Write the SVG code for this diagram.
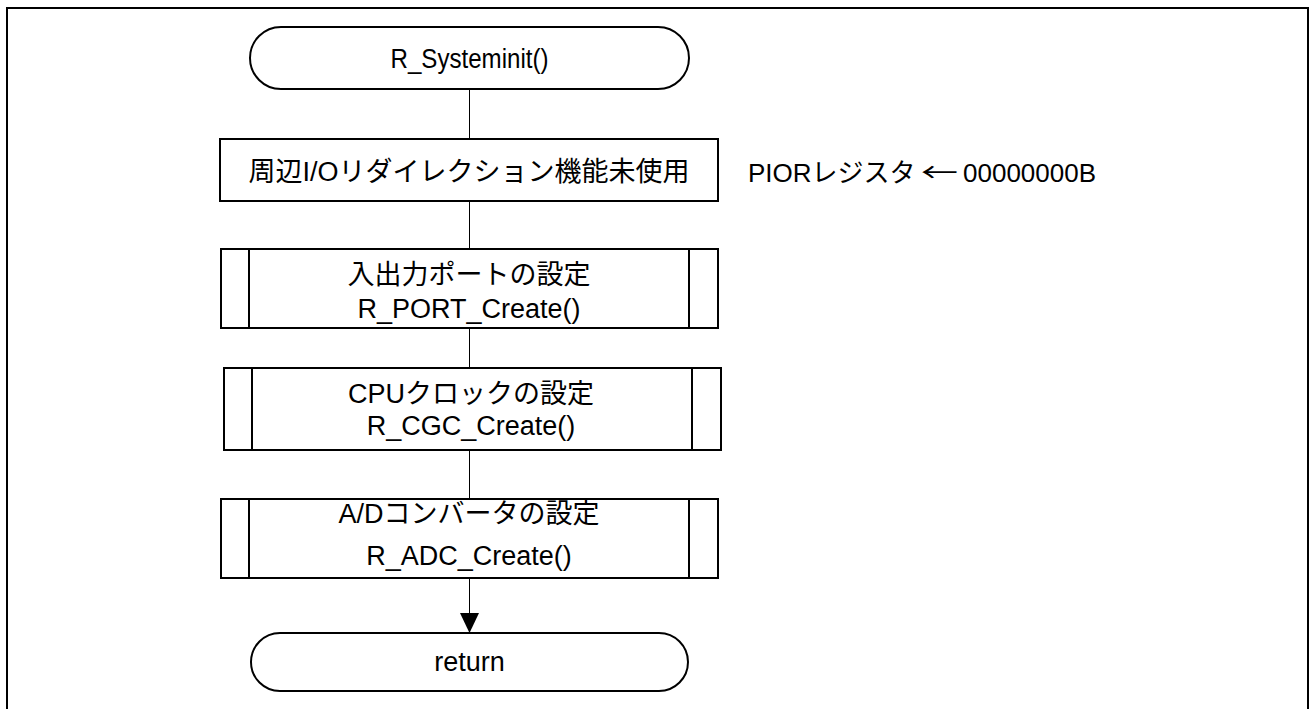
<svg xmlns="http://www.w3.org/2000/svg" width="1315" height="709" viewBox="0 0 1315 709">
<style>
.t{font-family:"Liberation Sans","Noto Sans CJK JP",sans-serif;font-size:27px;fill:#000;text-anchor:middle}
.l{font-family:"Liberation Sans","Noto Sans CJK JP",sans-serif;font-size:26px;fill:#000}
.b{fill:#fff;stroke:#000;stroke-width:2}
.s{fill:none;stroke:#000;stroke-width:2}
.c{fill:none;stroke:#000;stroke-width:1}
</style>
<defs>
<marker id="ah" markerUnits="userSpaceOnUse" markerWidth="20" markerHeight="19" refX="20" refY="9.5" orient="auto" viewBox="0 0 20 19">
<path d="M0,0 L20,9.5 L0,19 Z" fill="#000"/>
</marker>
</defs>
<rect x="7" y="8" width="1301" height="720" fill="#fff" stroke="#000" stroke-width="2"/>
<g id="connectors">
<line class="c" x1="469.5" y1="89" x2="469.5" y2="139"/>
<line class="c" x1="469.5" y1="201" x2="469.5" y2="249"/>
<line class="c" x1="469.5" y1="328" x2="469.5" y2="368"/>
<line class="c" x1="469.5" y1="450" x2="469.5" y2="499"/>
<line class="c" x1="469.5" y1="578" x2="469.5" y2="633" marker-end="url(#ah)"/>
</g>
<g id="start">
<rect class="b" x="250" y="27" width="439" height="62" rx="31" ry="31"/>
<text class="t" x="469.5" y="68" textLength="158" lengthAdjust="spacingAndGlyphs">R_Systeminit()</text>
</g>
<g id="pior">
<rect class="b" x="220" y="139" width="498" height="62"/>
<text class="t" x="469" y="181">周辺I/Oリダイレクション機能未使用</text>
</g>
<g id="pior-note">
<text class="l" x="748" y="182">PIORレジスタ</text>
<text class="l" x="921" y="182" textLength="37" lengthAdjust="spacingAndGlyphs" style="font-family:'Noto Sans CJK JP',sans-serif">←</text>
<text class="l" x="963" y="182">00000000B</text>
</g>
<g id="port">
<rect class="b" x="221" y="249" width="497" height="79"/>
<line class="s" x1="249" y1="249" x2="249" y2="328"/>
<line class="s" x1="689" y1="249" x2="689" y2="328"/>
<text class="t" x="469" y="284">入出力ポートの設定</text>
<text class="t" x="469" y="318">R_PORT_Create()</text>
</g>
<g id="cgc">
<rect class="b" x="224" y="368" width="497" height="82"/>
<line class="s" x1="252" y1="368" x2="252" y2="450"/>
<line class="s" x1="692" y1="368" x2="692" y2="450"/>
<text class="t" x="471" y="403">CPUクロックの設定</text>
<text class="t" x="471" y="435">R_CGC_Create()</text>
</g>
<g id="adc">
<rect class="b" x="221" y="499" width="497" height="79"/>
<line class="s" x1="249" y1="499" x2="249" y2="578"/>
<line class="s" x1="689" y1="499" x2="689" y2="578"/>
<text class="t" x="469" y="523">A/Dコンバータの設定</text>
<text class="t" x="469" y="565">R_ADC_Create()</text>
</g>
<g id="return">
<rect class="b" x="251" y="633" width="437" height="58" rx="29" ry="29"/>
<text class="t" x="469.5" y="671">return</text>
</g>
</svg>
